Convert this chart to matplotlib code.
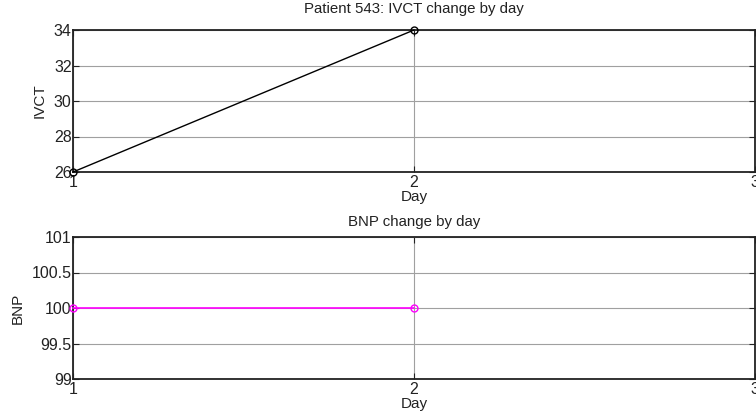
import matplotlib
matplotlib.use("Agg")
import matplotlib.pyplot as plt

# Patient 543 data
days = [1, 2]
ivct = [26, 34]
bnp = [100, 100]

ivct_ticks = [26, 28, 30, 32, 34]
bnp_ticks = [99, 99.5, 100, 100.5, 101]
bnp_tick_labels = ["99", "99.5", "100", "100.5", "101"]
day_ticks = [1, 2, 3]

plt.rcParams['font.family'] = ['Liberation Sans', 'DejaVu Sans']
plt.rcParams['font.size'] = 11

fig = plt.figure(figsize=(7.56, 4.16), dpi=100)
W, H = 756, 416


def make_axes(left, top, right, bottom):
    return fig.add_axes([left / W, 1 - bottom / H, (right - left) / W, (bottom - top) / H])


def style(ax):
    for s in ax.spines.values():
        s.set_linewidth(1.3)
        s.set_color("#222222")
    ax.tick_params(direction="in", length=4, width=0.8, top=True, right=True,
                   labelcolor="#222222", colors="#222222", labelsize=11.5)
    ax.tick_params(axis="y", pad=1)
    ax.tick_params(axis="x", pad=2)
    ax.grid(True, color="#a0a0a0", linewidth=0.8)
    ax.set_axisbelow(True)
    ax.set_xlim(1, 3)
    ax.set_xticks(day_ticks)
    ax.set_xlabel("Day", labelpad=0, color="#222222")


# top: IVCT
ax1 = make_axes(73, 30, 755, 172)
ax1.plot(days, ivct, color="black", linewidth=1, marker="o", markersize=5,
         markerfacecolor="none", markeredgecolor="black", clip_on=False, zorder=5)
ax1.set_ylim(26, 34)
ax1.set_yticks(ivct_ticks)
ax1.set_ylabel("IVCT", labelpad=5, color="#222222")
ax1.set_title("Patient 543: IVCT change by day", pad=12, fontsize=10.8, color="#222222")
style(ax1)

# bottom: BNP
ax2 = make_axes(73, 237, 755, 379)
ax2.plot(days, bnp, color="#ff00ff", linewidth=1.2, marker="o", markersize=5,
         markerfacecolor="none", markeredgecolor="#ff00ff", clip_on=False, zorder=5)
ax2.set_ylim(99, 101)
ax2.set_yticks(bnp_ticks)
ax2.set_yticklabels(bnp_tick_labels)
ax2.set_ylabel("BNP", labelpad=5, color="#222222")
ax2.set_title("BNP change by day", pad=8, fontsize=10.8, color="#222222")
style(ax2)

fig.savefig("out.png", dpi=100)
